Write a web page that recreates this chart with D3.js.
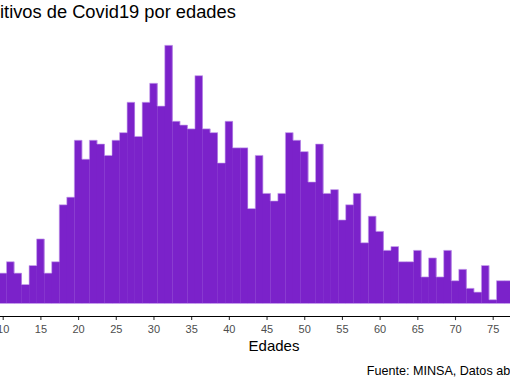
<!DOCTYPE html>
<html>
<head>
<meta charset="utf-8">
<script src="https://cdn.jsdelivr.net/npm/d3@7"></script>
<style>
  html, body { margin: 0; padding: 0; background: #fff; overflow: hidden; }
  svg { display: block; font-family: "Liberation Sans", Arial, sans-serif; }
</style>
</head>
<body>
<svg id="chart" width="510" height="382"></svg>
<script>
// Data: positive Covid19 cases by age (visible part of the chart)
const ages = [10,11,12,13,14,15,16,17,18,19,20,21,22,23,24,25,26,27,28,29,30,31,32,33,34,35,36,37,38,39,40,41,42,43,44,45,46,47,48,49,50,51,52,53,54,55,56,57,58,59,60,61,62,63,64,65,66,67,68,69,70,71,72,73,74,75,76,77];
const cases = [8,11,8,5,10,17,8,11,26,28,43,38,43,42,39,43,45,53,44,53,58,52,68,48,47,46,60,46,45,37,48,41,41,25,39,29,27,29,45,43,40,32,42,29,30,22,26,29,16,23,19,14,15,11,11,14,7,12,7,14,6,9,4,3,10,1,6,6];
const tickAges = [10,15,20,25,30,35,40,45,50,55,60,65,70,75];
const titleText = "itivos de Covid19 por edades";
const xTitle = "Edades";
const captionText = "Fuente: MINSA, Datos abiertos";

const svg = d3.select("#chart");
const W = 510, H = 382;

const x = d3.scaleLinear().domain([10, 75]).range([2.7, 492.7]);
const y = d3.scaleLinear().domain([0, 68]).range([303.5, 45.3]);
const axisY = 316.5;
const data = ages.map((a, i) => ({ age: a, n: cases[i] }));

// Bars
svg.append("g")
  .selectAll("rect")
  .data(data)
  .join("rect")
  .attr("x", d => x(d.age - 0.5))
  .attr("width", d => x(d.age + 0.5) - x(d.age - 0.5) + 0.3)
  .attr("y", d => y(d.n))
  .attr("height", d => y(0) - y(d.n))
  .attr("fill", "#7b22ca");

// Light outline along the exposed edges of the bars
const pts = [];
data.forEach(d => {
  pts.push([x(d.age - 0.5), y(d.n)]);
  pts.push([x(d.age + 0.5), y(d.n)]);
});
svg.append("path")
  .attr("d", d3.line()(pts))
  .attr("fill", "none")
  .attr("stroke", "#c9a6ee")
  .attr("stroke-width", 0.6);
// baseline edge
svg.append("line")
  .attr("x1", x(ages[0] - 0.5)).attr("x2", x(ages[ages.length - 1] + 0.5))
  .attr("y1", y(0)).attr("y2", y(0))
  .attr("stroke", "#c9a6ee").attr("stroke-width", 0.6);

// X axis
const ax = svg.append("g")
  .attr("transform", `translate(0,${axisY})`)
  .call(d3.axisBottom(x).tickValues(tickAges).tickSize(3.6).tickSizeOuter(0).tickPadding(4.9));
ax.select(".domain").remove();
ax.selectAll(".tick line").attr("stroke", "#333333").attr("stroke-width", 1.1);
ax.selectAll(".tick text")
  .attr("fill", "#4d4d4d")
  .style("font-size", "11px")
  .style("font-family", "Liberation Sans, Arial, sans-serif");
svg.append("line")
  .attr("x1", 0).attr("x2", W)
  .attr("y1", axisY).attr("y2", axisY)
  .attr("stroke", "#000").attr("stroke-width", 1.1);

// Axis title
svg.append("text")
  .attr("x", 274).attr("y", 350.7)
  .attr("text-anchor", "middle")
  .style("font-size", "15px")
  .attr("fill", "#000")
  .text(xTitle);

// Title (left part cropped in the reference)
svg.append("text")
  .attr("x", 0).attr("y", 18.3)
  .style("font-size", "18.3px")
  .attr("fill", "#000")
  .text(titleText);

// Caption (right part cropped in the reference)
svg.append("text")
  .attr("x", 366.7).attr("y", 375)
  .style("font-size", "12.6px")
  .attr("fill", "#000")
  .text(captionText);
</script>
</body>
</html>
